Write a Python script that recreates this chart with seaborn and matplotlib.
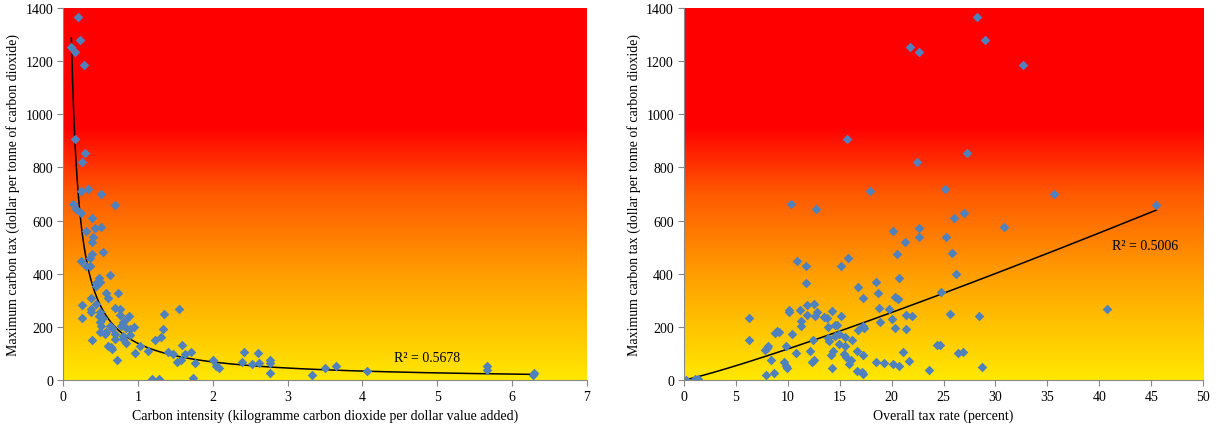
import numpy as np
import pandas as pd
import matplotlib
matplotlib.use('Agg')
import matplotlib.pyplot as plt
from matplotlib.colors import LinearSegmentedColormap
import seaborn as sns

# carbon intensity vs maximum carbon tax (left panel)
intensity = [0.20, 0.232, 0.112, 0.166, 0.281, 0.166, 0.294, 0.254, 0.236, 0.330, 0.513,
             0.691, 0.134, 0.17, 0.246, 0.388, 0.424, 0.513, 0.312, 0.401, 0.388, 0.534,
             0.388, 0.357, 0.246, 0.312, 0.366, 0.624, 0.481, 0.446, 0.50, 0.437, 0.58,
             0.731, 0.601, 0.379, 0.437, 0.254, 0.695, 0.766, 0.37, 0.49, 0.379, 0.259,
             0.757, 0.882, 0.847, 0.481, 0.534, 0.49, 0.802, 0.513, 0.624, 0.78, 0.847,
             0.945, 0.891, 0.66, 0.58, 0.49, 0.691, 0.891, 0.806, 0.557, 0.691, 0.388,
             0.847, 0.80, 0.601, 0.647, 0.66, 0.958, 0.727, 1.025, 1.136, 1.225, 1.315,
             1.336, 1.35, 1.546, 1.59, 1.403, 1.47, 1.626, 1.524, 1.582, 1.706, 1.76,
             1.194, 1.28, 1.737, 2.004, 2.049, 2.084, 2.418, 2.39, 2.53, 2.605, 2.62,
             2.76, 2.76, 2.76, 3.332, 3.50, 3.643, 4.06, 5.665, 5.665, 6.29, 6.28]
tax_left = [1367, 1280, 1253, 1236, 1185, 906, 854, 821, 713, 719, 699,
            660, 664, 645, 630, 610, 571, 576, 562, 537, 521, 481,
            475, 458, 449, 428, 428, 397, 385, 365, 370, 353, 328,
            328, 309, 309, 286, 282, 270, 267, 267, 257, 255, 235,
            245, 242, 230, 240, 232, 220, 217, 204, 204, 204, 196,
            198, 192, 196, 182, 180, 173, 171, 167, 173, 154, 151,
            139, 154, 129, 123, 117, 102, 75, 129, 110, 151, 163,
            192, 249, 267, 132, 107, 98, 98, 67, 75, 107, 63,
            4, 2, 6, 75, 54, 44, 104, 67, 60, 100, 64,
            75, 64, 26, 20, 44, 54, 34, 52, 39, 26, 19]

# overall tax rate vs maximum carbon tax (right panel)
tax_rate = [21.78, 22.65, 15.69, 22.45, 17.93, 25.15, 28.2, 28.97, 32.66, 27.3, 35.64,
            26.98, 26.05, 45.49, 30.8, 25.28, 25.82, 26.2, 24.73, 25.6, 28.42, 40.77,
            24.67, 26.43, 26.91, 28.74, 10.36, 12.7, 20.11, 22.62, 22.68, 21.27, 20.56,
            10.93, 11.8, 15.78, 15.17, 11.8, 20.75, 16.75, 18.48, 18.7, 17.23, 20.34,
            20.6, 6.26, 6.26, 10.13, 10.13, 11.19, 11.84, 12.54, 12.8, 12.64, 11.87,
            11.26, 11.26, 14.24, 13.5, 13.82, 15.11, 13.92, 14.56, 14.78, 14.56, 14.98,
            13.86, 13.98, 15.5, 14.98, 12.47, 10.42, 9.85, 8.95, 9.2, 8.79, 8.14,
            7.99, 7.82, 8.37, 7.89, 8.72, 10.81, 9.65, 9.85, 9.97, 12.16, 12.54,
            12.32, 14.34, 14.15, 14.27, 15.46, 15.59, 16.23, 16.07, 15.91, 16.71, 17.29,
            16.68, 17.13, 17.23, 16.78, 17.29, 17.35, 18.8, 18.89, 19.76, 20.08, 20.34,
            21.4, 22.0, 21.37, 21.08, 21.66, 18.54, 19.31, 20.17, 20.75, 23.64, 24.41,
            0.22, 1.09, 1.41, 15.53]
tax_right = [1253, 1236, 906, 821, 712, 719, 1367, 1280, 1185, 854, 699,
             630, 610, 660, 576, 537, 479, 398, 330, 249, 241, 267,
             132, 102, 104, 49, 663, 645, 562, 572, 539, 520, 473,
             448, 428, 459, 428, 365, 385, 351, 369, 329, 309, 311,
             306, 235, 151, 265, 255, 265, 282, 286, 257, 242, 246,
             221, 204, 261, 236, 232, 242, 198, 208, 208, 167, 173,
             157, 148, 161, 137, 152, 173, 129, 183, 182, 177, 129,
             119, 114, 75, 20, 26, 102, 67, 54, 44, 109, 75,
             67, 109, 94, 45, 98, 85, 152, 75, 60, 108, 95,
             33, 29, 21, 189, 204, 195, 270, 220, 267, 230, 197,
             245, 240, 192, 104, 73, 67, 64, 60, 54, 39, 132,
             0, 4, 4, 127]

# trend lines: y = a * x ** b
power_fit_left = (138.0, -1.02)
power_fit_right = (8.76, 1.124)
r2_left = 'R² = 0.5678'
r2_right = 'R² = 0.5006'

plt.rcParams['font.family'] = ['Liberation Serif', 'DejaVu Serif']

datos_izq = pd.DataFrame({'x': intensity, 'y': tax_left})
datos_der = pd.DataFrame({'x': tax_rate, 'y': tax_right})

fondo = LinearSegmentedColormap.from_list(
    'fondo', [(0.0, '#FFE800'), (0.25, '#FFA800'), (0.5, '#FF5A00'), (0.68, '#FF0000'), (1.0, '#FF0000')])

fig = plt.figure(figsize=(12.25, 4.35), dpi=100)
ax_izq = fig.add_axes([63 / 1225, 54 / 435, 524 / 1225, 372 / 435])
ax_der = fig.add_axes([683.7 / 1225, 54 / 435, 519.6 / 1225, 372 / 435])

paneles = [
    (ax_izq, datos_izq, (0, 7), range(0, 8), power_fit_left, r2_left, (4.86, 83),
     'Carbon intensity (kilogramme carbon dioxide per dollar value added)'),
    (ax_der, datos_der, (0, 50), range(0, 51, 5), power_fit_right, r2_right, (44.35, 506),
     'Overall tax rate (percent)'),
]

for ax, datos, xlim, xticks, fit, r2, r2_pos, xlabel in paneles:
    gradiente = np.linspace(0, 1, 256).reshape(-1, 1)
    ax.imshow(gradiente, cmap=fondo, origin='lower', aspect='auto',
              extent=(xlim[0], xlim[1], 0, 1400), zorder=0)
    sns.scatterplot(data=datos, x='x', y='y', ax=ax, marker='D', s=24,
                    color='#4F81BD', linewidth=0, zorder=3)
    xs = np.linspace(datos['x'].min(), datos['x'].max(), 400)
    ax.plot(xs, fit[0] * xs ** fit[1], color='black', lw=1.1, zorder=2)
    ax.text(r2_pos[0], r2_pos[1], r2, ha='center', va='center', fontsize=10)
    ax.set_xlim(*xlim)
    ax.set_ylim(0, 1400)
    ax.set_xticks(list(xticks))
    ax.set_yticks(range(0, 1401, 200))
    ax.set_xlabel(xlabel, fontsize=10, labelpad=4)
    ax.set_ylabel('Maximum carbon tax (dollar per tonne of carbon dioxide)', fontsize=10, labelpad=4)
    ax.tick_params(labelsize=10, length=4, color='#888888', pad=3)
    for lado in ['top', 'right']:
        ax.spines[lado].set_visible(False)
    for lado in ['left', 'bottom']:
        ax.spines[lado].set_color('#888888')
        ax.spines[lado].set_zorder(4)

fig.savefig('out.png', dpi=100)
